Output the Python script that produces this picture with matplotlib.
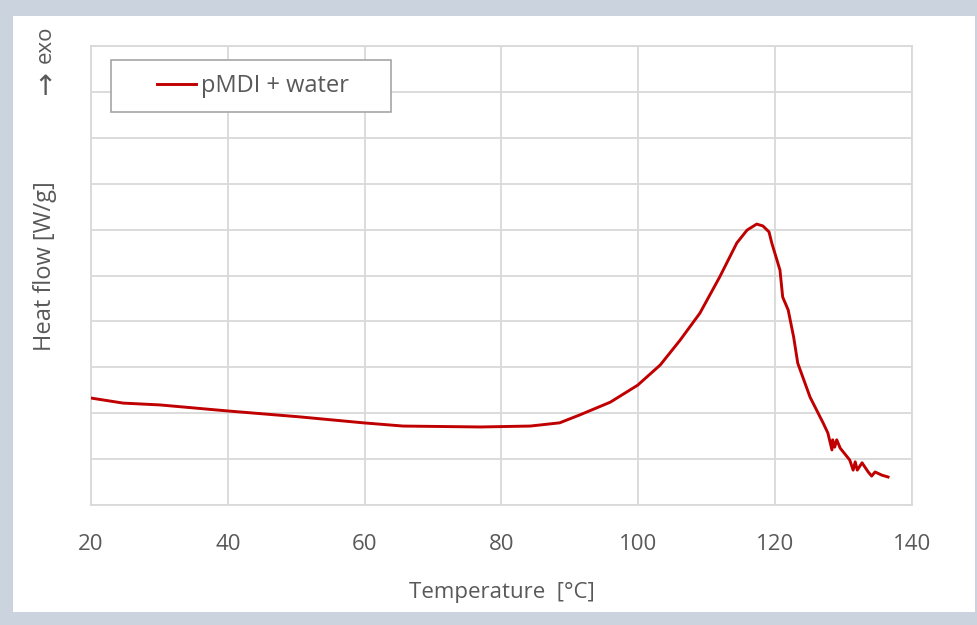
import matplotlib.pyplot as plt
from matplotlib.patches import Rectangle

# DSC curve (y in grid units, no scale shown)
temp = [20.0, 24.7, 30.1, 39.9, 50.5, 59.8, 65.6, 76.9, 84.2, 88.5, 91.4, 95.9,
        99.9, 103.2, 106.1, 109.0, 111.9, 114.4, 115.9, 117.3, 118.2, 119.1,
        119.5, 120.7, 121.1, 121.9, 122.7, 123.3, 125.1, 127.0, 127.7, 128.3,
        128.4, 128.7, 129.0, 129.5, 130.9, 131.4, 131.7, 132.0, 132.7, 133.1,
        133.6, 134.1, 134.6, 135.6, 136.5]
heat_flow = [2.33, 2.22, 2.18, 2.05, 1.92, 1.79, 1.72, 1.70, 1.72, 1.79, 1.96, 2.24,
             2.61, 3.05, 3.59, 4.18, 4.97, 5.71, 5.99, 6.12, 6.08, 5.95,
             5.71, 5.12, 4.53, 4.25, 3.66, 3.09, 2.35, 1.79, 1.57, 1.20,
             1.42, 1.26, 1.42, 1.24, 0.98, 0.76, 0.94, 0.76, 0.92, 0.83,
             0.72, 0.63, 0.72, 0.65, 0.61]
x_ticks = [20, 40, 60, 80, 100, 120, 140]
series_name = 'pMDI + water'

plt.rcParams['font.family'] = ['Open Sans', 'DejaVu Sans']
text_col = '#595959'
grid_col = '#d9d9d9'

fig = plt.figure(figsize=(9.78, 6.25), dpi=100, facecolor='#cbd3de')
fig.patches.append(Rectangle((13 / 978, 1 - 612 / 625), (975 - 13) / 978, (612 - 16) / 625,
                             transform=fig.transFigure, facecolor='white',
                             edgecolor='none', zorder=-5))

ax = fig.add_axes([91 / 978, 1 - 505 / 625, (912 - 91) / 978, (505 - 46) / 625])
ax.set_facecolor('white')
ax.plot(temp, heat_flow, color='#c00000', lw=2.1, label=series_name, zorder=3)

ax.set_xlim(20, 140)
ax.set_ylim(0, 10)
ax.set_xticks(x_ticks)
ax.set_yticks(range(0, 11))
ax.set_yticklabels([])
ax.grid(True, color=grid_col, lw=1.3)
ax.tick_params(length=0, labelsize=16, colors=text_col, pad=21)
for sp in ax.spines.values():
    sp.set_color(grid_col)
    sp.set_linewidth(1.3)

ax.set_xlabel('Temperature  [°C]', fontsize=16, color=text_col, labelpad=19)
ax.set_ylabel('Heat flow [W/g]', fontsize=17, color=text_col, va='center')
ax.yaxis.set_label_coords((45 - 91) / 821, (505 - 266) / 459)
fig.text(45 / 978, 1 - 44 / 625, 'exo', rotation=90, ha='center', va='center',
         fontsize=16, color=text_col)
fig.text(45 / 978, 1 - 87 / 625, '↑', ha='center', va='center',
         fontsize=20, color=text_col, family='DejaVu Sans')

# legend box drawn separately so the padding can be wider than tall
ax.add_patch(Rectangle(((111 - 91) / 821, (505 - 112) / 459), 280 / 821, 52 / 459,
                       transform=ax.transAxes, facecolor='white',
                       edgecolor='#a6a6a6', lw=1.2, zorder=4))
leg = ax.legend(loc='center', bbox_to_anchor=((253 - 91) / 821, (505 - 86) / 459),
                fontsize=17, frameon=False, handlelength=1.65, handletextpad=0.25,
                borderaxespad=0)
leg.set_zorder(5)
for t in leg.get_texts():
    t.set_color(text_col)

fig.savefig('out.png', dpi=100, facecolor=fig.get_facecolor())
